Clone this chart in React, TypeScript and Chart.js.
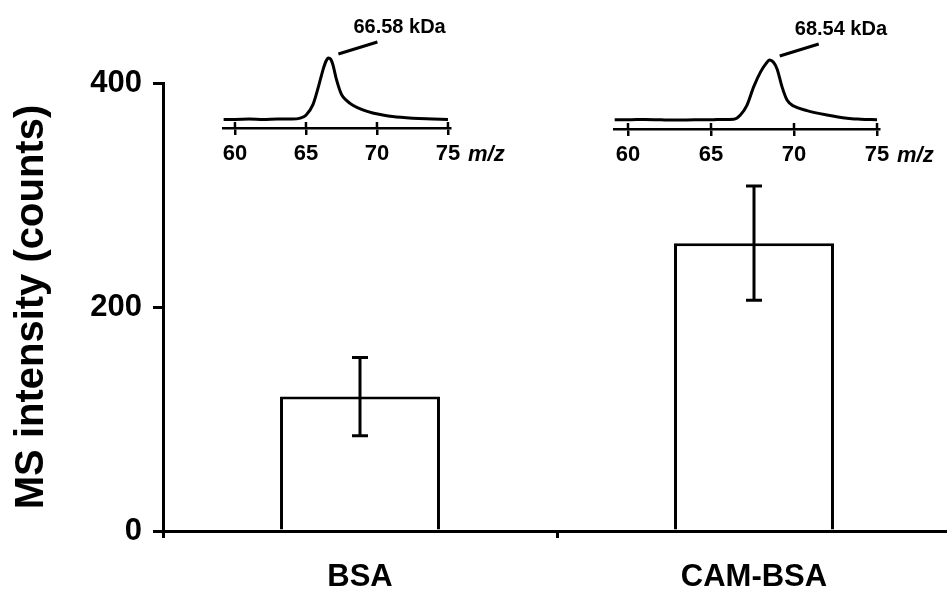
import React, { useEffect, useRef } from 'react';
import { Chart, registerables } from 'chart.js';

Chart.register(...registerables);

const FONT = "'Liberation Sans', Arial, Helvetica, sans-serif";

// Main bar chart data
const categories = ['BSA', 'CAM-BSA'];
const meanIntensity = [120, 257];
const errorSD = [35, 51];
const yTickValues = [0, 200, 400];
const yTitle = 'MS intensity (counts)';

// Inset spectra (m/z in kDa, relative intensity %)
const insetTicks = [60, 65, 70, 75];
const bsaMz = [59.2, 60, 61, 62, 63, 64, 64.6, 65.0, 65.5, 65.9, 66.2, 66.4, 66.58, 66.75, 66.9, 67.15, 67.5, 67.85, 68.3, 69.0, 69.7, 70.4, 71.1, 72.5, 73.5, 75];
const bsaInt = [12.3, 12.3, 12.7, 12.0, 12.7, 12.7, 14.1, 18.3, 33.8, 60.6, 83.1, 95, 100, 98, 90.1, 69.0, 47.9, 39.4, 32.4, 25.8, 21.5, 18.7, 16.5, 14.1, 13.1, 12.3];
const camMz = [59.2, 60, 61, 62, 63, 64, 65, 65.7, 66.37, 66.77, 67.17, 67.57, 67.98, 68.3, 68.54, 68.75, 68.98, 69.28, 69.58, 69.98, 70.78, 71.98, 73.19, 74, 75];
const camInt = [13.3, 13.3, 13.9, 13.3, 12.9, 13.3, 13.3, 13.9, 14.3, 20.4, 34.7, 61.0, 82.4, 94.3, 100, 97, 87.1, 61.0, 41.9, 33.3, 26.7, 20.4, 15.7, 14.3, 13.3];
const peakLabels = ['66.58 kDa', '68.54 kDa'];
const insetUnit = 'm/z';

function MainChart() {
  const ref = useRef<HTMLCanvasElement>(null);
  useEffect(() => {
    const errorBars = {
      id: 'errorBars',
      afterDatasetsDraw(chart: any) {
        const ctx = chart.ctx;
        const y = chart.scales.y;
        const meta = chart.getDatasetMeta(0);
        ctx.save();
        ctx.strokeStyle = '#000';
        ctx.lineWidth = 3;
        meta.data.forEach((bar: any, i: number) => {
          const x = bar.x;
          const top = y.getPixelForValue(meanIntensity[i] + errorSD[i]);
          const bot = y.getPixelForValue(meanIntensity[i] - errorSD[i]);
          ctx.beginPath();
          ctx.moveTo(x, top);
          ctx.lineTo(x, bot);
          ctx.moveTo(x - 8, top);
          ctx.lineTo(x + 8, top);
          ctx.moveTo(x - 8, bot);
          ctx.lineTo(x + 8, bot);
          ctx.stroke();
        });
        ctx.restore();
      },
    };
    const chart = new Chart(ref.current as HTMLCanvasElement, {
      type: 'bar',
      data: {
        labels: categories,
        datasets: [
          {
            data: meanIntensity,
            backgroundColor: '#fff',
            borderColor: '#000',
            borderWidth: 3,
            barPercentage: 0.406,
            categoryPercentage: 1,
          },
        ],
      },
      options: {
        animation: false,
        responsive: false,
        devicePixelRatio: 1,
        layout: { padding: { top: 83, left: 0, right: 0, bottom: 0 } },
        plugins: { legend: { display: false }, tooltip: { enabled: false } },
        scales: {
          x: {
            grid: {
              display: true,
              drawOnChartArea: false,
              drawTicks: true,
              tickLength: 7,
              color: '#000',
              lineWidth: 3,
              offset: true,
            },
            border: { display: true, color: '#000', width: 3 },
            ticks: {
              font: { family: FONT, size: 31, weight: 'bold' },
              color: '#000',
              padding: 21,
              maxRotation: 0,
            },
            afterFit: (s: any) => {
              s.height = 61;
            },
          },
          y: {
            min: 0,
            max: 400,
            afterBuildTicks: (s: any) => {
              s.ticks = yTickValues.map((v) => ({ value: v }));
            },
            grid: {
              display: true,
              drawOnChartArea: false,
              drawTicks: true,
              tickLength: 10,
              color: '#000',
              lineWidth: 3,
            },
            border: { display: true, color: '#000', width: 3 },
            ticks: {
              font: { family: FONT, size: 31, weight: 'bold' },
              color: '#000',
              padding: 11,
            },
            title: {
              display: true,
              text: yTitle,
              color: '#000',
              font: { family: FONT, size: 40, weight: 'bold' },
              padding: { top: 8, bottom: 0 },
            },
            afterFit: (s: any) => {
              s.width = 163;
            },
          },
        },
      } as any,
      plugins: [errorBars],
    });
    return () => chart.destroy();
  }, []);
  return <canvas ref={ref} width={951} height={592} style={{ position: 'absolute', left: 0, top: 0 }} />;
}

type InsetProps = {
  mz: number[];
  intensity: number[];
  label: string;
  left: number;
  width: number;
  padLeft: number;
  padRight: number;
  padTop: number;
  axisY: number;
};

function Inset({ mz, intensity, label, left, width, padLeft, padRight, padTop, axisY }: InsetProps) {
  const ref = useRef<HTMLCanvasElement>(null);
  const height = 180;
  useEffect(() => {
    const decor = {
      id: 'insetDecor',
      afterDraw(chart: any) {
        const ctx = chart.ctx;
        const xs = chart.scales.x;
        const yPix = chart.chartArea.bottom;
        ctx.save();
        ctx.strokeStyle = '#000';
        ctx.fillStyle = '#000';
        ctx.lineWidth = 2.5;
        // upper halves of crossing tick marks
        insetTicks.forEach((v) => {
          const px = xs.getPixelForValue(v);
          ctx.beginPath();
          ctx.moveTo(px, yPix);
          ctx.lineTo(px, yPix - 6);
          ctx.stroke();
        });
        // unit label
        ctx.font = `italic bold 22px ${FONT}`;
        ctx.textAlign = 'left';
        ctx.textBaseline = 'middle';
        ctx.fillText(insetUnit, xs.getPixelForValue(insetTicks[insetTicks.length - 1]) + 20, yPix + 27);
        // peak annotation
        const meta = chart.getDatasetMeta(0);
        let idx = 0;
        intensity.forEach((v, i) => {
          if (v > intensity[idx]) idx = i;
        });
        const pt = meta.data[idx];
        ctx.lineWidth = 3;
        ctx.beginPath();
        ctx.moveTo(pt.x + 10, pt.y - 4);
        ctx.lineTo(pt.x + 49, pt.y - 16);
        ctx.stroke();
        ctx.font = `bold 20px ${FONT}`;
        ctx.fillText(label, pt.x + 25, pt.y - 31);
        ctx.restore();
      },
    };
    const chart = new Chart(ref.current as HTMLCanvasElement, {
      type: 'line',
      data: {
        datasets: [
          {
            data: mz.map((x, i) => ({ x, y: intensity[i] })),
            borderColor: '#000',
            borderWidth: 3,
            pointRadius: 0,
            cubicInterpolationMode: 'monotone',
            fill: false,
            clip: false,
          },
        ],
      },
      options: {
        animation: false,
        responsive: false,
        devicePixelRatio: 1,
        layout: { padding: { left: padLeft, right: padRight, top: padTop, bottom: 0 } },
        plugins: { legend: { display: false }, tooltip: { enabled: false } },
        scales: {
          x: {
            type: 'linear',
            min: 59.2,
            max: 75.15,
            afterBuildTicks: (s: any) => {
              s.ticks = insetTicks.map((v) => ({ value: v }));
            },
            grid: {
              display: true,
              drawOnChartArea: false,
              drawTicks: true,
              tickLength: 7,
              color: '#000',
              lineWidth: 2.5,
            },
            border: { display: true, color: '#000', width: 2.5 },
            ticks: {
              font: { family: FONT, size: 22, weight: 'bold' },
              color: '#000',
              padding: 6,
              maxRotation: 0,
              autoSkip: false,
            },
            afterFit: (s: any) => {
              s.height = height - axisY;
            },
          },
          y: { display: false, min: 0, max: 100 },
        },
      } as any,
      plugins: [decor],
    });
    return () => chart.destroy();
  }, []);
  return (
    <canvas
      ref={ref}
      width={width}
      height={height}
      style={{ position: 'absolute', left, top: 0 }}
    />
  );
}

export default function App() {
  return (
    <div
      style={{
        position: 'fixed',
        left: 0,
        top: 0,
        width: 947,
        height: 592,
        overflow: 'hidden',
        background: '#fff',
      }}
    >
      <MainChart />
      <Inset mz={bsaMz} intensity={bsaInt} label={peakLabels[0]} left={200} width={310} padLeft={23.6} padRight={59.9} padTop={58} axisY={128} />
      <Inset mz={camMz} intensity={camInt} label={peakLabels[1]} left={590} width={357} padLeft={24.7} padRight={67.5} padTop={60} axisY={129} />
    </div>
  );
}
